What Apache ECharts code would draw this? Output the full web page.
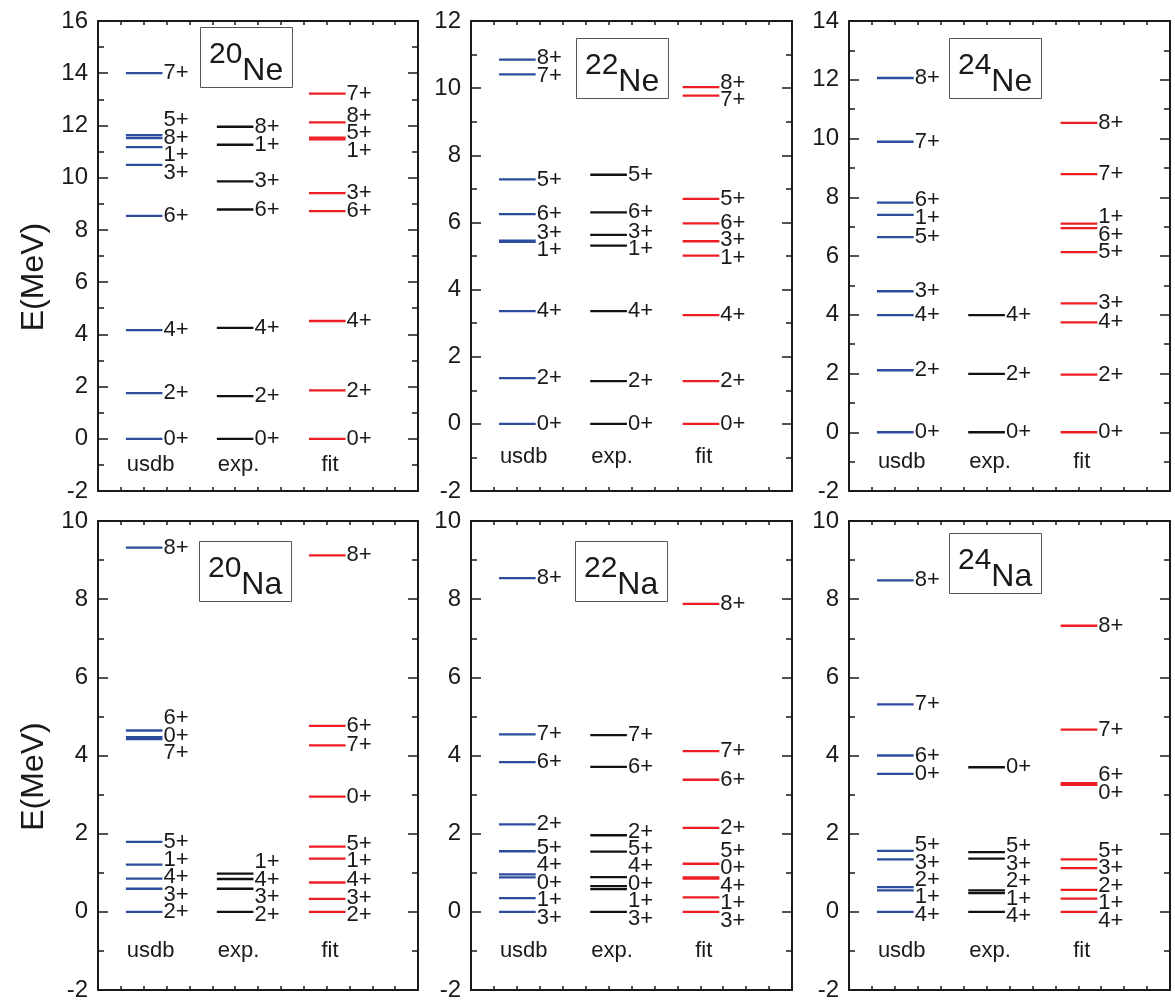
<!DOCTYPE html>
<html>
<head>
<meta charset="utf-8">
<script src="https://cdn.jsdelivr.net/npm/echarts@6/dist/echarts.min.js"></script>
<style>html,body{margin:0;padding:0;background:#fff}#c{width:1175px;height:1002px}</style>
</head>
<body>
<div id="c"></div>
<script>
// ---------- data (energies in MeV, spins) ----------
const massNumbers = ['20', '22', '24', '20', '22', '24'];
const elements = ['Ne', 'Ne', 'Ne', 'Na', 'Na', 'Na'];
const columnNames = ['usdb', 'exp.', 'fit'];
const yMin = [-2, -2, -2, -2, -2, -2];
const yMax = [16, 12, 14, 10, 10, 10];

// 20Ne
const ne20UsdbJ = ['0+', '2+', '4+', '6+', '3+', '1+', '8+', '5+', '7+'];
const ne20UsdbE = [0, 1.75, 4.16, 8.54, 10.49, 11.17, 11.52, 11.63, 14.00];
const ne20ExpJ = ['0+', '2+', '4+', '6+', '3+', '1+', '8+'];
const ne20ExpE = [0, 1.63, 4.25, 8.78, 9.86, 11.26, 11.95];
const ne20FitJ = ['0+', '2+', '4+', '6+', '3+', '1+', '5+', '8+', '7+'];
const ne20FitE = [0, 1.85, 4.51, 8.72, 9.41, 11.47, 11.53, 12.12, 13.22];
// 22Ne
const ne22UsdbJ = ['0+', '2+', '4+', '1+', '3+', '6+', '5+', '7+', '8+'];
const ne22UsdbE = [0, 1.36, 3.36, 5.42, 5.46, 6.25, 7.28, 10.41, 10.85];
const ne22ExpJ = ['0+', '2+', '4+', '1+', '3+', '6+', '5+'];
const ne22ExpE = [0, 1.27, 3.36, 5.31, 5.63, 6.30, 7.42];
const ne22FitJ = ['0+', '2+', '4+', '1+', '3+', '6+', '5+', '7+', '8+'];
const ne22FitE = [0, 1.27, 3.24, 5.01, 5.44, 5.97, 6.70, 9.78, 10.03];
// 24Ne
const ne24UsdbJ = ['0+', '2+', '4+', '3+', '5+', '1+', '6+', '7+', '8+'];
const ne24UsdbE = [0, 2.11, 3.99, 4.80, 6.64, 7.40, 7.82, 9.89, 12.06];
const ne24ExpJ = ['0+', '2+', '4+'];
const ne24ExpE = [0, 1.99, 3.99];
const ne24FitJ = ['0+', '2+', '4+', '3+', '5+', '6+', '1+', '7+', '8+'];
const ne24FitE = [0, 1.96, 3.74, 4.39, 6.13, 6.95, 7.10, 8.79, 10.53];
// 20Na
const na20UsdbJ = ['2+', '3+', '4+', '1+', '5+', '7+', '0+', '6+', '8+'];
const na20UsdbE = [0, 0.59, 0.85, 1.21, 1.79, 4.42, 4.47, 4.64, 9.32];
const na20ExpJ = ['2+', '3+', '4+', '1+'];
const na20ExpE = [0, 0.59, 0.84, 0.98];
const na20FitJ = ['2+', '3+', '4+', '1+', '5+', '0+', '7+', '6+', '8+'];
const na20FitE = [0, 0.33, 0.75, 1.36, 1.67, 2.95, 4.26, 4.76, 9.12];
// 22Na
const na22UsdbJ = ['3+', '1+', '0+', '4+', '5+', '2+', '6+', '7+', '8+'];
const na22UsdbE = [0, 0.35, 0.88, 0.96, 1.55, 2.24, 3.83, 4.54, 8.54];
const na22ExpJ = ['3+', '1+', '0+', '4+', '5+', '2+', '6+', '7+'];
const na22ExpE = [0, 0.58, 0.66, 0.89, 1.54, 1.96, 3.71, 4.52];
const na22FitJ = ['3+', '1+', '4+', '0+', '5+', '2+', '6+', '7+', '8+'];
const na22FitE = [0, 0.37, 0.85, 0.88, 1.23, 2.15, 3.38, 4.11, 7.88];
// 24Na
const na24UsdbJ = ['4+', '1+', '2+', '3+', '5+', '0+', '6+', '7+', '8+'];
const na24UsdbE = [0, 0.55, 0.63, 1.34, 1.56, 3.53, 4.00, 5.31, 8.48];
const na24ExpJ = ['4+', '1+', '2+', '3+', '5+', '0+'];
const na24ExpE = [0, 0.48, 0.55, 1.36, 1.53, 3.70];
const na24FitJ = ['4+', '1+', '2+', '3+', '5+', '0+', '6+', '7+', '8+'];
const na24FitE = [0, 0.34, 0.56, 1.12, 1.34, 3.25, 3.29, 4.66, 7.32];

const panels = [
  [[ne20UsdbE, ne20UsdbJ], [ne20ExpE, ne20ExpJ], [ne20FitE, ne20FitJ]],
  [[ne22UsdbE, ne22UsdbJ], [ne22ExpE, ne22ExpJ], [ne22FitE, ne22FitJ]],
  [[ne24UsdbE, ne24UsdbJ], [ne24ExpE, ne24ExpJ], [ne24FitE, ne24FitJ]],
  [[na20UsdbE, na20UsdbJ], [na20ExpE, na20ExpJ], [na20FitE, na20FitJ]],
  [[na22UsdbE, na22UsdbJ], [na22ExpE, na22ExpJ], [na22FitE, na22FitJ]],
  [[na24UsdbE, na24UsdbJ], [na24ExpE, na24ExpJ], [na24FitE, na24FitJ]]
];

// ---------- layout & style ----------
const FONT = '"Liberation Sans", Arial, Helvetica, sans-serif';
const TXT = '#1a1a1a';
const gridLeft = [98, 471, 849, 98, 471, 849];
const gridTop = [21, 21, 21, 521, 521, 521];
const gridWidth = [320, 321, 321, 320, 321, 321];
const gridHeight = 470;
const titlePos = [[200, 27], [576, 38], [949, 38], [199, 541], [575, 541], [949, 533]];
const colStart = [1.22, 5.2, 9.23];
const colLen = 1.6;
const colLabelX = [2.3, 6.15, 10.15];
const colLabelY = -1.0;
const colColors = ['#2d4c9e', '#111111', '#ee1d24'];
const labelGapPx = 17.5;
const labelFont = '22px ' + FONT;

// spread labels so they do not overlap (cluster-based), returns label energies
function spreadLabels(E, pxPerUnit, gapPx) {
  const gap = gapPx / pxPerUnit;
  const order = E.map((e, i) => i).sort((a, b) => E[a] - E[b]);
  const clusters = order.map(i => ({ m: [i] }));
  const place = c => {
    const mean = c.m.reduce((s, i) => s + E[i], 0) / c.m.length;
    c.lo = mean - gap * (c.m.length - 1) / 2;
    c.hi = c.lo + gap * (c.m.length - 1);
  };
  clusters.forEach(place);
  let changed = true;
  while (changed) {
    changed = false;
    for (let j = 0; j < clusters.length - 1; j++) {
      if (clusters[j + 1].lo - clusters[j].hi < gap - 1e-9) {
        clusters[j].m = clusters[j].m.concat(clusters[j + 1].m);
        clusters.splice(j + 1, 1);
        place(clusters[j]);
        changed = true;
        break;
      }
    }
  }
  const out = new Array(E.length);
  clusters.forEach(c => c.m.forEach((i, j) => { out[i] = c.lo + gap * j; }));
  return out;
}

const grid = [], xAxis = [], yAxis = [], series = [], title = [];
for (let p = 0; p < 6; p++) {
  grid.push({ left: gridLeft[p], top: gridTop[p], width: gridWidth[p], height: gridHeight });
  ['bottom', 'top'].forEach(pos => xAxis.push({
    type: 'value', gridIndex: p, position: pos, min: 0, max: 14, interval: 1,
    axisLine: { show: true, onZero: false, lineStyle: { color: TXT, width: 2 } },
    axisTick: { show: true, inside: true, length: 4, lineStyle: { color: TXT, width: 1.5 } },
    axisLabel: { show: false }, splitLine: { show: false }
  }));
  ['left', 'right'].forEach(side => yAxis.push({
    type: 'value', gridIndex: p, position: side, min: yMin[p], max: yMax[p], interval: 2,
    axisLine: { show: true, onZero: false, lineStyle: { color: TXT, width: 2 } },
    axisTick: { show: true, inside: true, length: 10, lineStyle: { color: TXT, width: 1.5 } },
    minorTick: { show: true, splitNumber: 2, length: 6, lineStyle: { color: TXT, width: 1.5 } },
    axisLabel: { show: side === 'left', margin: 10, fontSize: 24, color: TXT, fontFamily: FONT },
    splitLine: { show: false },
    name: (side === 'left' && p % 3 === 0) ? 'E(MeV)' : '',
    nameLocation: 'middle', nameGap: 48,
    nameTextStyle: { fontSize: 32, color: TXT, fontFamily: FONT, padding: [0, 42, 0, 0] }
  }));
  title.push({
    left: titlePos[p][0], top: titlePos[p][1],
    text: '{a|' + massNumbers[p] + '}{b|' + elements[p] + '}',
    padding: [13, 9, 1, 9],
    borderColor: '#555', borderWidth: 1,
    textStyle: {
      fontWeight: 'normal',
      rich: {
        a: { fontSize: 30, fontWeight: 'normal', fontFamily: FONT, color: TXT, lineHeight: 20, verticalAlign: 'top' },
        b: { fontSize: 32, fontWeight: 'normal', fontFamily: FONT, color: TXT, lineHeight: 47, verticalAlign: 'bottom' }
      }
    }
  });
  const pxPerUnit = gridHeight / (yMax[p] - yMin[p]);
  panels[p].forEach((col, c) => {
    const E = col[0], J = col[1];
    const LE = spreadLabels(E, pxPerUnit, labelGapPx);
    series.push({
      type: 'custom', xAxisIndex: 2 * p, yAxisIndex: 2 * p, silent: true,
      encode: { x: 0, y: 1 },
      data: E.map((e, i) => [colStart[c], e, LE[i]]),
      renderItem: (params, api) => {
        const x0 = api.value(0), e = api.value(1), le = api.value(2);
        const a = api.coord([x0, e]);
        const b = api.coord([x0 + colLen, e]);
        const l = api.coord([x0 + colLen, le]);
        return {
          type: 'group', children: [
            { type: 'line', shape: { x1: a[0], y1: a[1], x2: b[0], y2: b[1] },
              style: { stroke: colColors[c], lineWidth: 2.3 } },
            { type: 'text', x: l[0] + 1, y: l[1],
              style: { text: J[params.dataIndex], fill: TXT, font: labelFont,
                       align: 'left', verticalAlign: 'middle' } }
          ]
        };
      }
    });
  });
  series.push({
    type: 'custom', xAxisIndex: 2 * p, yAxisIndex: 2 * p, silent: true,
    encode: { x: 0, y: 1 },
    data: columnNames.map((n, c) => [colLabelX[c], colLabelY]),
    renderItem: (params, api) => {
      const pt = api.coord([api.value(0), api.value(1)]);
      return { type: 'text', x: pt[0], y: pt[1],
        style: { text: columnNames[params.dataIndex], fill: TXT, font: labelFont,
                 align: 'center', verticalAlign: 'middle' } };
    }
  });
}

const chart = echarts.init(document.getElementById('c'), null, { renderer: 'canvas' });
chart.setOption({ animation: false, backgroundColor: '#fff', title, grid, xAxis, yAxis, series });
</script>
</body>
</html>
